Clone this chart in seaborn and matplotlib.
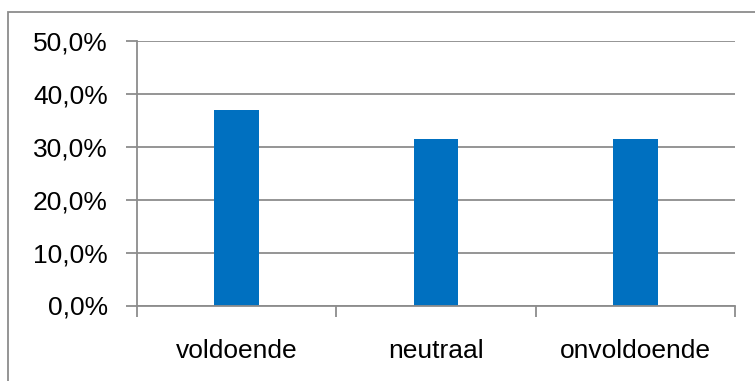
import matplotlib
matplotlib.use("Agg")
import matplotlib.pyplot as plt
import seaborn as sns
import pandas as pd
from matplotlib.patches import Rectangle
from matplotlib.ticker import FuncFormatter, FixedLocator

categories = ["voldoende", "neutraal", "onvoldoende"]
values = [37.0, 31.5, 31.5]
y_ticks = [0, 10, 20, 30, 40, 50]

sns.set_theme(style="white")
plt.rcParams['font.family'] = ['Liberation Sans', 'DejaVu Sans']

W, H = 755, 381
fig = plt.figure(figsize=(W / 100, H / 100), dpi=100)
ax = fig.add_axes([137 / W, 1 - 305.5 / H, (735 - 137) / W, (305.5 - 41) / H])

df = pd.DataFrame({"cat": categories, "val": values})
sns.barplot(data=df, x="cat", y="val", ax=ax, color="#0070C0", width=0.225,
            saturation=1, edgecolor="none")

grey = "#8C8C8C"
ax.set_xlim(-0.5, 2.5)
ax.set_ylim(0, 50)
ax.set_yticks(y_ticks)
ax.yaxis.set_major_formatter(FuncFormatter(lambda v, p: f"{v:.1f}".replace(".", ",") + "%"))
ax.yaxis.grid(True, color=grey, linewidth=1.3)
ax.set_axisbelow(True)
ax.set_xlabel("")
ax.set_ylabel("")

for s in ["top", "right"]:
    ax.spines[s].set_visible(False)
for s in ["left", "bottom"]:
    ax.spines[s].set_color(grey)
    ax.spines[s].set_linewidth(1.3)

fs = 19
ax.tick_params(axis="y", which="major", length=8, width=1.3, color=grey,
               labelsize=fs, pad=13, left=True)
ax.tick_params(axis="x", which="major", length=0, labelsize=fs, pad=24)
ax.xaxis.set_minor_locator(FixedLocator([-0.5, 0.5, 1.5, 2.5]))
ax.tick_params(axis="x", which="minor", length=8, width=1.3, color=grey, bottom=True)
for lbl in ax.get_xticklabels() + ax.get_yticklabels():
    lbl.set_color("#000000")

fig.patches.append(Rectangle((8 / W, -0.1), 1.2, 1.1 - 12 / H,
                             transform=fig.transFigure, fill=False,
                             edgecolor=grey, linewidth=1.3))

fig.savefig("out.png", dpi=100)
